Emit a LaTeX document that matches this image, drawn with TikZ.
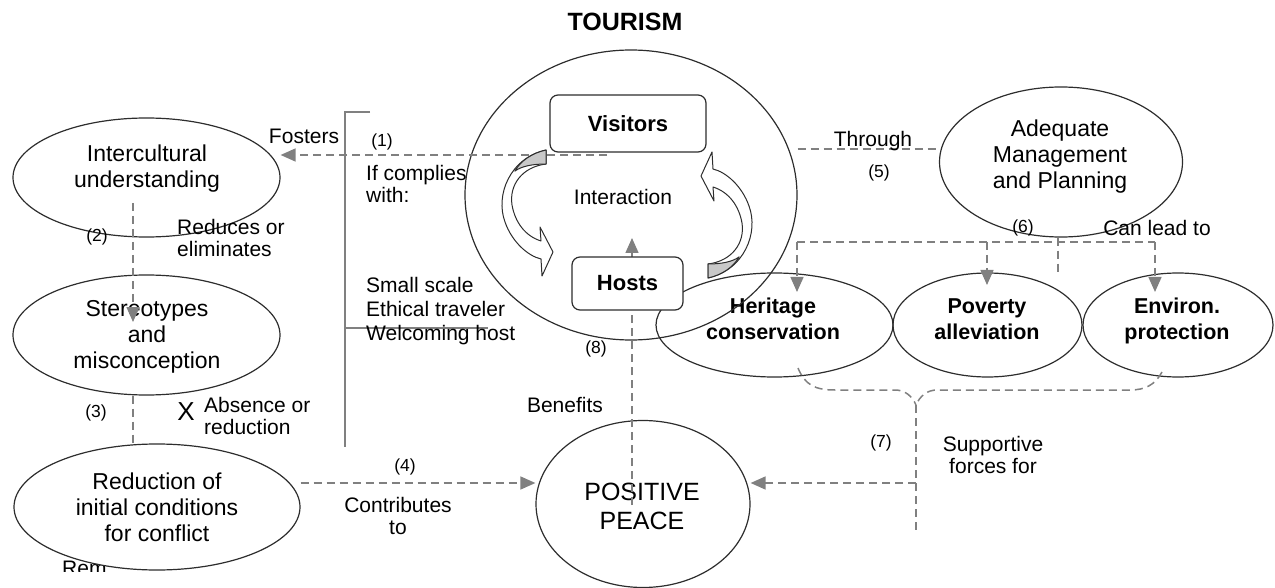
\documentclass[tikz,border=0pt]{standalone}
\usepackage{fontspec}
\setmainfont{Liberation Sans}
\usetikzlibrary{shapes.geometric,arrows.meta}
\definecolor{conncol}{RGB}{128,128,128}
\definecolor{outl}{RGB}{45,45,45}
\definecolor{facegray}{RGB}{200,200,200}
\begin{document}
\begin{tikzpicture}[x=1pt,y=-1pt,
  ell/.style={ellipse,draw=outl,line width=1.2pt,inner sep=0pt},
  ntxt/.style={align=center,font=\fontsize{23}{26}\selectfont,inner sep=0pt},
  btxt/.style={align=center,font=\fontsize{21.5}{26}\selectfont\bfseries,inner sep=0pt},
  lbl/.style={align=left,font=\fontsize{21}{22.5}\selectfont,inner sep=0pt},
  clbl/.style={align=center,font=\fontsize{21}{22.5}\selectfont,inner sep=0pt},
  num/.style={font=\fontsize{17.5}{20}\selectfont,inner sep=0pt},
  conn/.style={draw=conncol,line width=1.5pt,dash pattern=on 8pt off 5pt},
  arr/.style={-{Triangle[length=15pt,width=13pt]}},
  brk/.style={draw=conncol,line width=1.6pt},
  box/.style={draw=outl,line width=1.2pt,rounded corners=8pt,fill=white,inner sep=0pt,
              font=\fontsize{22}{26}\selectfont\bfseries},
  curl/.style={draw=outl,line width=1pt,line join=round}
]
\useasboundingbox (0,0) rectangle (1275,588);

% title
\node[font=\fontsize{25}{28}\selectfont\bfseries,inner sep=0pt] (title) at (625,22) {TOURISM};

% fragment partly hidden by the ellipse
\begin{scope}
\clip (40,540) rectangle (140,571);
\node[lbl,anchor=base west] (rem) at (62,575) {Rem};
\end{scope}

% left column ellipses
\node[ell,fill=white,minimum width=267pt,minimum height=119pt] (inter) at (146.5,177.5) {};
\node[ell,fill=white,minimum width=267pt,minimum height=120pt] (stereo) at (146.5,335) {};
\node[ell,fill=white,minimum width=286pt,minimum height=126pt] (reduc) at (157,507) {};
\node[ntxt] (intert) at (147,169) {Intercultural\\understanding};
\node[ntxt] (stereot) at (147,337) {Stereotypes\\and\\misconception};
\node[ntxt] (reduct) at (157,507) {Reduction of\\initial conditions\\for conflict};

% outcome ellipses
\node[ell,minimum width=237pt,minimum height=104pt] (herit) at (774.5,325) {};
\node[ell,minimum width=189pt,minimum height=104pt] (pov) at (987.5,325) {};
\node[ell,minimum width=190pt,minimum height=104pt] (env) at (1178,325) {};
\node[btxt] (heritt) at (773,319) {Heritage\\conservation};
\node[btxt] (povt) at (987,319) {Poverty\\alleviation};
\node[btxt] (envt) at (1177,321) {Environ.\\protection};

% tourism ellipse
\node[ell,minimum width=332pt,minimum height=290pt] (tour) at (631,195) {};

% management ellipse
\node[ell,fill=white,minimum width=243pt,minimum height=150pt] (adeq) at (1061,162) {};
\node[ntxt] (adeqt) at (1060,157) {Adequate\\Management\\and Planning};

% positive peace
\node[ell,fill=white,minimum width=214pt,minimum height=167pt] (peace) at (643,504) {};
\node[align=center,font=\fontsize{25}{29}\selectfont,inner sep=0pt] (peacet) at (642,506) {POSITIVE\\PEACE};

% bracket
\coordinate (bt) at (345,112);
\coordinate (btr) at (370,112);
\coordinate (bb) at (345,447);
\coordinate (bm) at (345,328);
\coordinate (bmr) at (488,328);
\draw[brk] (btr) -- (bt) -- (bb);
\draw[brk] (bm) -- (bmr);

% connectors
\coordinate (c1) at (607,155);
\draw[conn,arr] (c1) -- (inter.east |- c1);
\coordinate (c2a) at (133,203);
\coordinate (c2b) at (133,322);
\draw[conn,arr] (c2a) -- (c2b);
\draw[conn] (stereo.south -| c2a) -- (reduc.north -| c2a);
\coordinate (c4) at (300,483);
\draw[conn,arr] (reduc.east |- c4) -- (peace.west |- c4);
\coordinate (c5) at (800,149);
\draw[conn] (tour.east |- c5) -- (adeq.west |- c5);
% (6)
\coordinate (c6m) at (1058,242);
\coordinate (c6l) at (797,242);
\coordinate (c6r) at (1155,242);
\coordinate (c6e) at (1058,275);
\coordinate (c6ht) at (797,292);
\coordinate (c6pt) at (987,285);
\coordinate (c6et) at (1155,292);
\draw[conn] (adeq.south -| c6m) -- (c6e);
\draw[conn] (c6l) -- (c6r);
\draw[conn,arr] (c6l) -- (c6ht);
\draw[conn,arr] (c6l -| c6pt) -- (c6pt);
\draw[conn,arr] (c6r) -- (c6et);
% (7)
\coordinate (c7a) at (798,368);
\coordinate (c7b) at (1162,372);
\coordinate (c7j) at (916,405);
\coordinate (c7e) at (916,532);
\draw[conn] (c7a) .. controls (805,385) and (815,390) .. (835,390) -- (895,390) .. controls (905,390) and (912,396) .. (c7j);
\draw[conn] (c7b) .. controls (1155,385) and (1145,390) .. (1130,390) -- (937,390) .. controls (927,390) and (920,396) .. (c7j);
\draw[conn] (c7j) -- (c7e);
\draw[conn,arr] (c7j |- c4) -- (peace.east |- c4);
% (8)
\coordinate (c8) at (632,505);
\coordinate (c8t) at (632,238);
\draw[conn,arr] (c8) -- (c8t);

% boxes
\node[box,minimum width=156pt,minimum height=57pt] (vis) at (628,123.5) {Visitors};
\node[box,minimum width=111pt,minimum height=53pt] (hosts) at (627.5,283.5) {Hosts};

% curved block arrows
\draw[curl,fill=white] (546,150) .. controls (510,158) and (495,195) .. (505,222)
  .. controls (512,242) and (528,256) .. (541,259) -- (542,276) -- (553,252) -- (540,227) -- (541,241)
  .. controls (525,236) and (515,222) .. (512,205) .. controls (509,185) and (522,167) .. (546,164) -- cycle;
\draw[curl,fill=facegray] (546,150) .. controls (531.6,153.2) and (520.6,161) .. (514.8,171.1)
  .. controls (522,166) and (533,164) .. (546,164) -- cycle;
\draw[curl,fill=white] (708,278) .. controls (744,270) and (759,233) .. (749,206)
  .. controls (742,186) and (726,172) .. (713,169) -- (712,152) -- (701,176) -- (714,201) -- (713,187)
  .. controls (729,192) and (739,206) .. (742,223) .. controls (745,243) and (732,261) .. (708,264) -- cycle;
\draw[curl,fill=facegray] (708,278) .. controls (722.4,274.8) and (733.4,267) .. (739.2,256.9)
  .. controls (732,262) and (721,264) .. (708,264) -- cycle;

% labels
\node[lbl] (fost) at (304,136) {Fosters};
\node[num] (n1) at (382,142) {(1)};
\node[lbl,anchor=west] (ifc) at (366,184) {If complies\\with:};
\node[lbl,anchor=west,font=\fontsize{21}{24}\selectfont] (crit) at (366,311) {Small scale\\Ethical traveler\\Welcoming host};
\node[lbl] (interl) at (623,197) {Interaction};
\node[lbl,anchor=west] (redl) at (177,238) {Reduces or\\eliminates};
\node[num] (n2) at (97,237) {(2)};
\node[num] (n3) at (96,413) {(3)};
\node[font=\fontsize{26}{28}\selectfont,inner sep=0pt] (xm) at (186,412) {X};
\node[lbl,anchor=west] (absl) at (204,416) {Absence or\\reduction};
\node[num] (n4) at (405,467) {(4)};
\node[clbl] (contr) at (398,516) {Contributes\\to};
\node[lbl] (ben) at (565,405) {Benefits};
\node[num] (n8) at (596,349) {(8)};
\node[num] (n7) at (881,443) {(7)};
\node[clbl] (supp) at (993,455) {Supportive\\forces for};
\node[lbl] (thr) at (873,141) {Through};
\node[num] (n5) at (879,173) {(5)};
\node[num] (n6) at (1023,228) {(6)};
\node[lbl] (canl) at (1157,228) {Can lead to};
\end{tikzpicture}
\end{document}
